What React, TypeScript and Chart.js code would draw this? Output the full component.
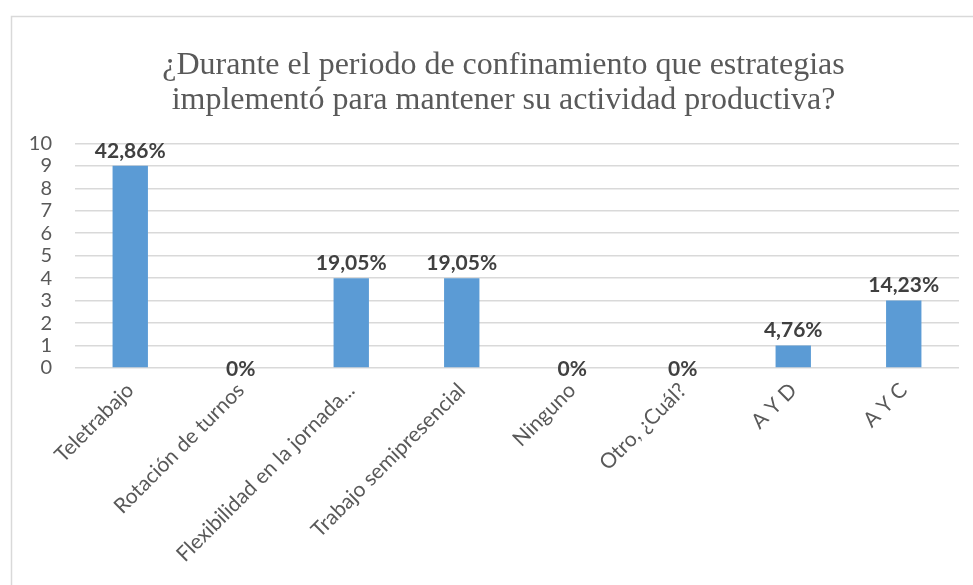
import React, { useEffect, useRef } from "react";
import { Chart, registerables } from "chart.js";

Chart.register(...registerables);

const categories = [
  "Teletrabajo",
  "Rotación de turnos",
  "Flexibilidad en la jornada...",
  "Trabajo semipresencial",
  "Ninguno",
  "Otro, ¿Cuál?",
  "A Y D",
  "A Y C",
];
const counts = [9, 0, 4, 4, 0, 0, 1, 3];
const percentLabels = ["42,86%", "0%", "19,05%", "19,05%", "0%", "0%", "4,76%", "14,23%"];
const titleLines = [
  "¿Durante el periodo de confinamiento que estrategias",
  "implementó para mantener su actividad productiva?",
];

const frame = {
  id: "frame",
  beforeDraw(chart: any) {
    const { ctx, width, height } = chart;
    ctx.save();
    ctx.fillStyle = "#ffffff";
    ctx.fillRect(0, 0, width, height);
    ctx.strokeStyle = "#d9d9d9";
    ctx.lineWidth = 1.5;
    ctx.beginPath();
    ctx.moveTo(width, 16.5);
    ctx.lineTo(11.5, 16.5);
    ctx.lineTo(11.5, height);
    ctx.stroke();
    ctx.restore();
  },
};

// The original chart frame is wider than the visible window, so its title sits a bit right of the canvas centre
const titleShift = {
  id: "titleShift",
  afterLayout(chart: any) {
    const tb = chart.titleBlock;
    if (tb) {
      tb.left += 24;
      tb.right += 24;
    }
  },
};

const valueLabels = {
  id: "valueLabels",
  afterDatasetsDraw(chart: any) {
    const { ctx } = chart;
    const meta = chart.getDatasetMeta(0);
    ctx.save();
    ctx.font = "bold 21px Lato";
    ctx.fillStyle = "#404040";
    ctx.textAlign = "center";
    ctx.textBaseline = "middle";
    meta.data.forEach((bar: any, i: number) => {
      const v = counts[i];
      const y = v === 0 ? bar.y + 1 : bar.y - 15;
      ctx.fillText(percentLabels[i], bar.x, y);
    });
    ctx.restore();
  },
};

export default function App() {
  const ref = useRef<HTMLCanvasElement>(null);
  useEffect(() => {
    if (!ref.current) return;
    const chart = new Chart(ref.current, {
      type: "bar",
      data: {
        labels: categories,
        datasets: [
          {
            data: counts,
            backgroundColor: "#5b9bd5",
            barPercentage: 0.32,
            categoryPercentage: 1,
          },
        ],
      },
      options: {
        animation: false,
        responsive: false,
        layout: { padding: { left: 0, right: 14, top: 0, bottom: 0 } },
        plugins: {
          legend: { display: false },
          tooltip: { enabled: false },
          title: {
            display: true,
            text: titleLines,
            color: "#595959",
            font: { family: "'Liberation Serif', serif", size: 32, weight: "normal", lineHeight: 1.1 },
            padding: { top: 48, bottom: 25 },
          },
        },
        scales: {
          y: {
            min: 0,
            max: 10,
            ticks: {
              stepSize: 1,
              autoSkip: false,
              color: "#595959",
              font: { family: "Lato", size: 20 },
              padding: 23,
            },
            grid: { color: "#d9d9d9", lineWidth: 1.5, drawTicks: false },
            border: { display: false },
            afterFit(scale: any) {
              scale.width = 75;
            },
          },
          x: {
            grid: { display: false },
            border: { display: false },
            ticks: {
              autoSkip: false,
              maxRotation: 45,
              minRotation: 45,
              color: "#595959",
              font: { family: "Lato", size: 21 },
              padding: 2,
            },
            afterFit(scale: any) {
              scale.height = 217;
            },
          },
        },
      },
      plugins: [frame, titleShift, valueLabels],
    });
    return () => chart.destroy();
  }, []);
  return (
    <div style={{ position: "fixed", left: 0, top: 0, width: 973, height: 585 }}>
      <canvas ref={ref} width={973} height={585} style={{ width: 973, height: 585 }} />
    </div>
  );
}
